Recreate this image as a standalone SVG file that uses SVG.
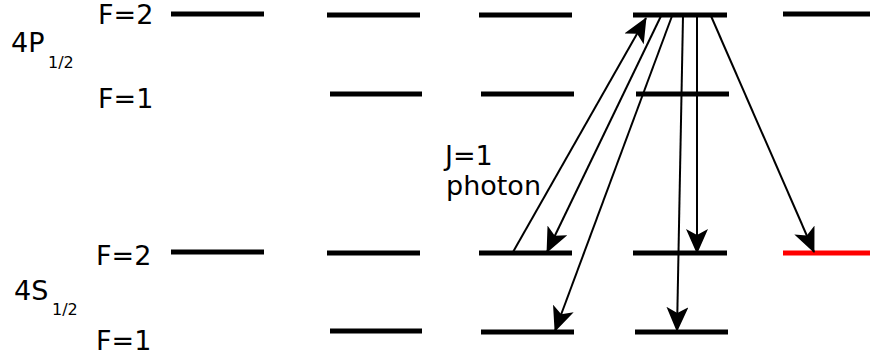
<svg xmlns="http://www.w3.org/2000/svg" width="870" height="355" viewBox="0 0 870 355">
<defs>
<marker id="ah" viewBox="0 0 25 22" refX="24" refY="11" markerWidth="25" markerHeight="22" markerUnits="userSpaceOnUse" orient="auto">
<path d="M0,0 L25,11 L0,22 L6,11 Z" fill="#000"/>
</marker>
<style>
.lv{stroke:#000;stroke-width:5}
.red{stroke:#f00;stroke-width:5}
.t{font-family:"DejaVu Sans",sans-serif;font-size:27px;fill:#000}
.s{font-family:"DejaVu Sans",sans-serif;font-size:16px;fill:#000}
.ar{stroke:#000;stroke-width:2;fill:none;marker-end:url(#ah)}
</style>
</defs>
<rect width="870" height="355" fill="#fff"/>
<g id="labels">
<text class="t" x="98" y="24">F=2</text>
<text class="t" x="11" y="52">4P</text>
<text class="s" x="48" y="68">1/2</text>
<text class="t" x="98" y="108">F=1</text>
<text class="t" x="96" y="265">F=2</text>
<text class="t" x="14" y="300">4S</text>
<text class="s" x="52" y="315">1/2</text>
<text class="t" x="96" y="350">F=1</text>
<text class="t" x="445" y="165">J=1</text>
<text class="t" x="446" y="195">photon</text>
</g>
<g id="col1">
<line class="lv" x1="171" y1="14" x2="264" y2="14"/>
<line class="lv" x1="171" y1="252" x2="264" y2="252"/>
</g>
<g id="col2">
<line class="lv" x1="327" y1="15" x2="420" y2="15"/>
<line class="lv" x1="330" y1="94" x2="422" y2="94"/>
<line class="lv" x1="327" y1="253" x2="420" y2="253"/>
<line class="lv" x1="330" y1="331" x2="422" y2="331"/>
</g>
<g id="col3">
<line class="lv" x1="479" y1="15" x2="572" y2="15"/>
<line class="lv" x1="481" y1="94" x2="574" y2="94"/>
<line class="lv" x1="479" y1="253" x2="572" y2="253"/>
<line class="lv" x1="481" y1="332" x2="574" y2="332"/>
</g>
<g id="col4">
<line class="lv" x1="633" y1="15" x2="727" y2="15"/>
<line class="lv" x1="636" y1="94" x2="729" y2="94"/>
<line class="lv" x1="633" y1="253" x2="727" y2="253"/>
<line class="lv" x1="635" y1="332" x2="728" y2="332"/>
</g>
<g id="col5">
<line class="lv" x1="783" y1="14" x2="870" y2="14"/>
<line class="red" x1="783" y1="253" x2="870" y2="253"/>
</g>
<g id="connectors">
<line class="ar" x1="513" y1="252" x2="646" y2="18"/>
<line class="ar" x1="661" y1="16" x2="547" y2="252"/>
<line class="ar" x1="672" y1="16" x2="555" y2="331"/>
<line class="ar" x1="683" y1="16" x2="677" y2="331"/>
<line class="ar" x1="697" y1="16" x2="697" y2="253"/>
<line class="ar" x1="711" y1="16" x2="814" y2="252"/>
</g>
</svg>
